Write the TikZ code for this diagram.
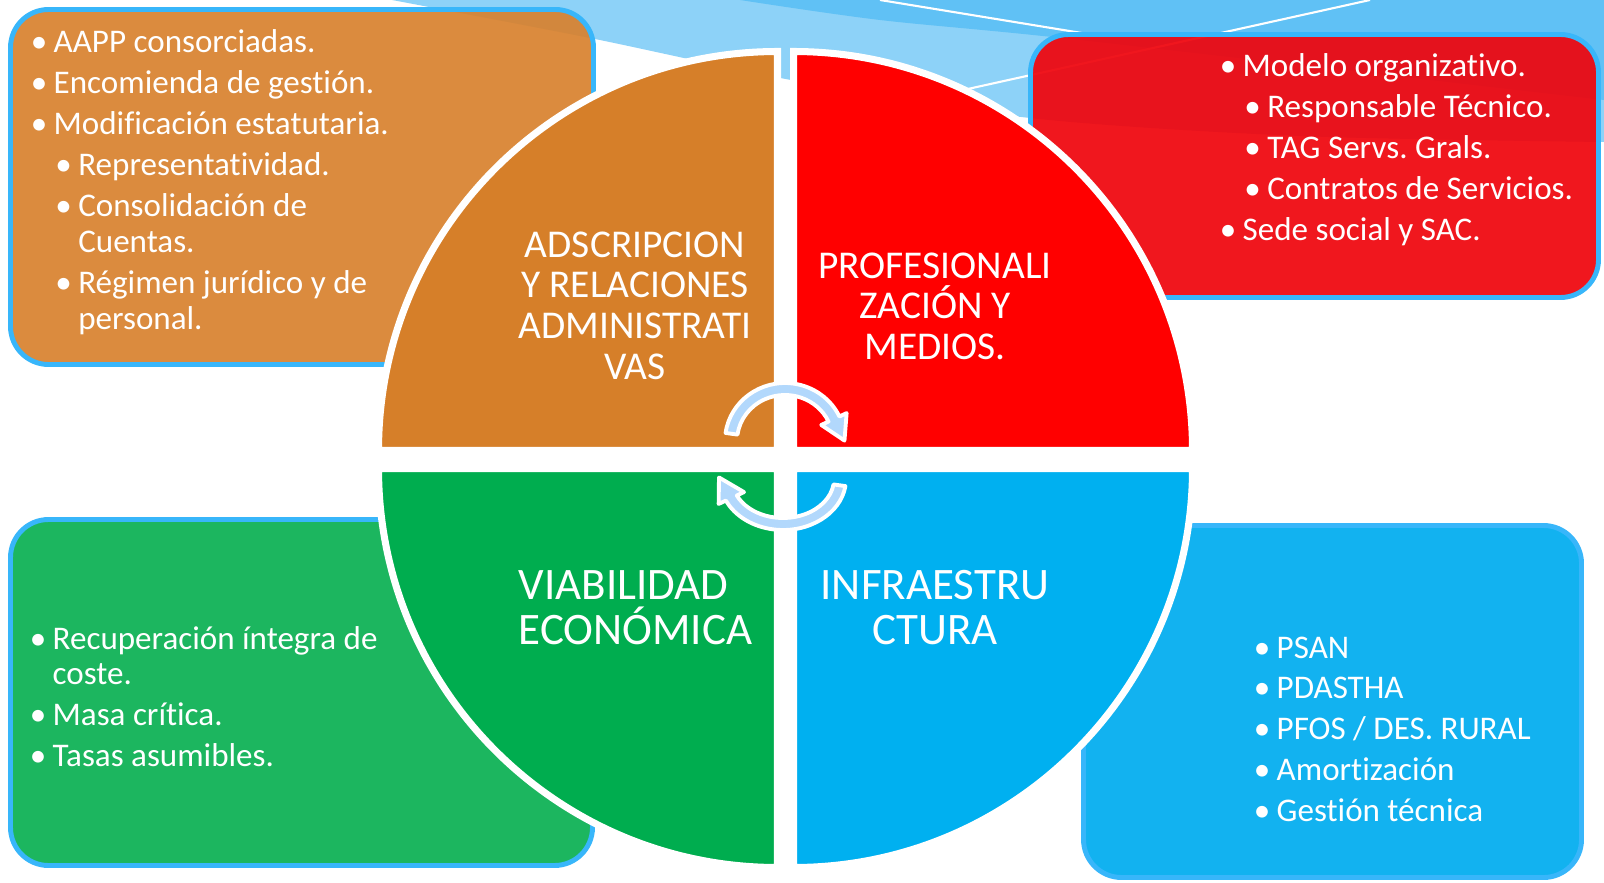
\documentclass[tikz,border=0pt]{standalone}
\usepackage{fontspec}
\setmainfont{Carlito}[Ligatures=CommonOff]
\usetikzlibrary{calc}

\definecolor{naranjaCaja}{RGB}{216,130,47}
\definecolor{rojoCaja}{RGB}{239,5,13}
\definecolor{verdeCaja}{RGB}{11,176,83}
\definecolor{azulCaja}{RGB}{0,172,239}
\definecolor{bordeCaja}{RGB}{56,182,250}
\definecolor{naranjaSector}{RGB}{214,127,41}
\definecolor{rojoSector}{RGB}{255,0,0}
\definecolor{verdeSector}{RGB}{0,173,79}
\definecolor{azulSector}{RGB}{0,176,240}
\definecolor{cieloClaro}{RGB}{141,210,248}
\definecolor{cieloOscuro}{RGB}{96,193,245}
\definecolor{flechaAzul}{RGB}{178,216,252}

\newcommand{\puntoA}[1]{\par\noindent\hangindent=5.4pt\hangafter=1\makebox[5.4pt][l]{\hspace*{-1.1pt}\textbullet}#1}
\newcommand{\puntoB}[1]{\par\noindent\hangindent=12.4pt\hangafter=1\hspace*{7pt}\makebox[5.4pt][l]{\hspace*{-1.1pt}\textbullet}#1}

\tikzset{
  caja/.style={draw=bordeCaja, line width=1.4pt, rounded corners=3.8mm, fill opacity=0.93},
  sector/.style={draw=white, line width=2pt},
  flecha/.style={fill=flechaAzul, draw=white, line width=1.1pt, line join=round},
  titulo/.style={text=white, inner sep=0pt, font=\fontsize{11.2}{11.6}\selectfont},
  lista/.style={text=white, inner sep=0pt, anchor=base west, font=\fontsize{9.4}{10.2}\selectfont},
}

\begin{document}
\frenchspacing
\begin{tikzpicture}[x=0.01cm, y=-0.01cm]
\useasboundingbox (0,0) rectangle (1604,882);
% fondo
\fill[cieloClaro] plot[smooth] coordinates {(392,0) (590,38) (791,80) (1030,118) (1300,136) (1604,142)} -- (1604,0) -- cycle;
\fill[cieloOscuro] plot[smooth] coordinates {(740,0) (880,20) (1080,40) (1604,100)} -- (1604,0) -- cycle;
\draw[white, line width=0.6pt] (880,0) -- (1100,36);
\draw[white, line width=0.6pt] (900,104) -- (1370,0);

\filldraw[caja, fill=naranjaCaja] (10.5,9.5) rectangle (593.5,364.5);
\filldraw[caja, fill=rojoCaja] (1030.5,34.5) rectangle (1598.5,297.5);
\filldraw[caja, fill=verdeCaja] (10.5,519.5) rectangle (592.5,865.5);
\filldraw[caja, fill=azulCaja] (1083.5,525.5) rectangle (1581.5,877.5);

\filldraw[sector, fill=naranjaSector] (777.5,450.5) -- (378.5,450.5) arc[start angle=180, end angle=270, radius=399] -- cycle;
\filldraw[sector, fill=rojoSector] (793.5,450.5) -- (793.5,51.5) arc[start angle=270, end angle=360, radius=399] -- cycle;
\filldraw[sector, fill=verdeSector] (777.5,468.5) -- (378.5,468.5) arc[start angle=180, end angle=90, radius=399] -- cycle;
\filldraw[sector, fill=azulSector] (793.5,468.5) -- (1192.5,468.5) arc[start angle=0, end angle=90, radius=399] -- cycle;

\node[titulo, anchor=base] (titAdscripcion) at (635,257) {\parbox[t]{5cm}{\centering ADSCRIPCION\\Y RELACIONES\\ADMINISTRATI\\VAS}};
\node[titulo, anchor=base] (titProfesional) at (935,278) {\parbox[t]{5cm}{\centering PROFESIONALI\\ZACIÓN Y\\MEDIOS.}};
\node[titulo, anchor=base west, font=\fontsize{12.8}{12.8}\selectfont] (titViabilidad) at (518,599) {\parbox[t]{5cm}{\raggedright VIABILIDAD\\ECONÓMICA}};
\node[titulo, anchor=base, font=\fontsize{12.8}{12.8}\selectfont] (titInfra) at (935,599) {\parbox[t]{5cm}{\centering INFRAESTRU\\CTURA}};

\begin{scope}[shift={(785,441)}]
  \filldraw[flecha] (188:60 and 58) arc[start angle=188, end angle=335, x radius=60, y radius=58]
    -- (335:68 and 66) -- ($(335:54 and 52)+(64:24)$) -- (335:40 and 38)
    -- (335:48 and 46) arc[start angle=335, end angle=188, x radius=48, y radius=46] -- cycle;
\end{scope}
\begin{scope}[shift={(783,479)}, rotate=180]
  \filldraw[flecha] (188:63 and 51) arc[start angle=188, end angle=335, x radius=63, y radius=51]
    -- (335:71 and 59) -- ($(335:57 and 45)+(59:24)$) -- (335:43 and 31)
    -- (335:51 and 39) arc[start angle=335, end angle=188, x radius=51, y radius=39] -- cycle;
\end{scope}

\node[lista] (lstAdscripcion) at (34,53) {\parbox[t]{5cm}{\setlength{\parskip}{1.45pt}%
  \puntoA{AAPP consorciadas.}
  \puntoA{Encomienda de gestión.}
  \puntoA{Modificación estatutaria.}
  \puntoB{Representatividad.}
  \puntoB{Consolidación de\newline Cuentas.}
  \puntoB{Régimen jurídico y de\newline personal.}}};
\node[lista] (lstProfesional) at (1223,77) {\parbox[t]{5cm}{\setlength{\parskip}{1.45pt}%
  \puntoA{Modelo organizativo.}
  \puntoB{Responsable Técnico.}
  \puntoB{TAG Servs. Grals.}
  \puntoB{Contratos de Servicios.}
  \puntoA{Sede social y SAC.}}};
\node[lista] (lstViabilidad) at (33,649) {\parbox[t]{5cm}{\setlength{\parskip}{1.45pt}%
  \puntoA{Recuperación íntegra de\newline coste.}
  \puntoA{Masa crítica.}
  \puntoA{Tasas asumibles.}}};
\node[lista] (lstInfra) at (1257,658) {\parbox[t]{5cm}{\setlength{\parskip}{1.45pt}%
  \puntoA{PSAN}
  \puntoA{PDASTHA}
  \puntoA{PFOS / DES. RURAL}
  \puntoA{Amortización}
  \puntoA{Gestión técnica}}};
\end{tikzpicture}
\end{document}
